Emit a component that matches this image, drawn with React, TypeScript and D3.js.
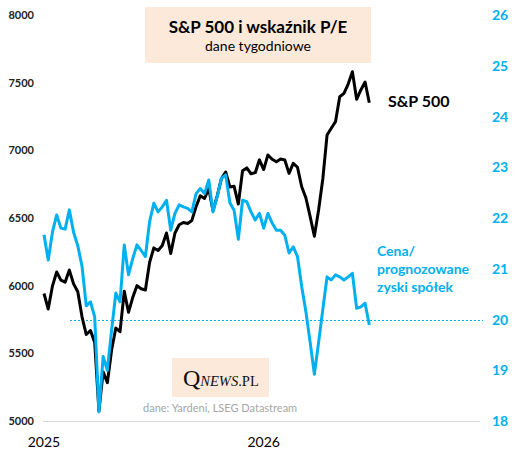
import React from "react";
import * as d3 from "d3";

// S&P 500 weekly closes (index 0 = first week of 2025)
const sp500: number[] = [
  5942, 5827, 5997, 6101, 6041, 6026, 6115, 6013, 5955, 5770,
  5639, 5668, 5581, 5074, 5363, 5283, 5525, 5687, 5660, 5958,
  5803, 5912, 6000, 5977, 5968, 6173, 6279, 6260, 6297, 6389,
  6238, 6389, 6450, 6467, 6460, 6482, 6584, 6664, 6644, 6716,
  6553, 6664, 6792, 6840, 6729, 6734, 6603, 6849, 6870, 6827,
  6835, 6930, 6858, 6966, 6934, 6916, 6936, 6929, 6830, 6904,
  6875, 6731, 6648, 6510, 6365, 6559, 6790, 7113, 7163, 7212,
  7396, 7421, 7490, 7581, 7377, 7446, 7505, 7352,
];

// Forward P/E (price / expected earnings)
const pe: number[] = [
  21.67, 21.17, 21.72, 22.06, 21.8, 21.78, 22.16, 21.72, 21.45, 21.05,
  20.27, 20.35, 20.05, 18.18, 19.27, 19.0, 19.79, 20.52, 20.35, 21.47,
  20.88, 21.2, 21.47, 21.36, 21.24, 21.93, 22.29, 22.12, 22.22, 22.35,
  21.76, 22.09, 22.26, 22.22, 22.19, 22.12, 22.48, 22.58, 22.48, 22.75,
  22.12, 22.42, 22.78, 22.85, 22.3, 22.15, 21.58, 22.35, 22.32, 22.12,
  21.96, 22.09, 21.8, 22.09, 21.9, 21.76, 21.76, 21.66, 21.31, 21.43,
  21.24, 20.65, 20.15, 19.55, 18.92, 19.55, 20.2, 20.84, 20.78, 20.88,
  20.84, 20.78, 20.84, 20.91, 20.22, 20.25, 20.32, 19.89,
];

const leftTicks: number[] = [5000, 5500, 6000, 6500, 7000, 7500, 8000];
const rightTicks: number[] = [18, 19, 20, 21, 22, 23, 24, 25, 26];
const xTickLabels: string[] = ["2025", "2026"];
const xTickIndex: number[] = [0, 52];
const peReference = 20;

const FONT = "Lato, 'Open Sans', sans-serif";
const BLUE = "#00b0f0";

export default function App() {
  const W = 517;
  const H = 460;
  const x = d3.scaleLinear().domain([0, sp500.length - 1]).range([44, 369.3]);
  const yL = d3.scaleLinear().domain([5000, 8000]).range([421, 15]);
  const yR = d3.scaleLinear().domain([18, 26]).range([421, 15]);

  const spLine = d3
    .line<number>()
    .x((_, i) => x(i))
    .y((d) => yL(d))(sp500) as string;
  const peLine = d3
    .line<number>()
    .x((_, i) => x(i))
    .y((d) => yR(d))(pe) as string;

  const refY = Math.round(yR(peReference)) + 0.5;

  return (
    <div style={{ position: "absolute", left: 0, top: 0 }}>
      <svg width={W} height={H} style={{ display: "block", background: "#fff" }} fontFamily={FONT}>
        {/* title box */}
        <rect x={145} y={7} width={226} height={56} fill="#fde9d9" />
        <text x={258} y={33} textAnchor="middle" fontSize={17} fontWeight="bold" fill="#000">
          S&amp;P 500 i wskaźnik P/E
        </text>
        <text x={258} y={51} textAnchor="middle" fontSize={14} fill="#000">
          dane tygodniowe
        </text>

        {/* left axis labels */}
        {leftTicks.map((t) => (
          <text key={"l" + t} x={34} y={yL(t) + 4} textAnchor="end" fontSize={11} fontWeight="bold" fill="#222">
            {t}
          </text>
        ))}
        {/* right axis labels */}
        {rightTicks.map((t) => (
          <text key={"r" + t} x={500} y={yR(t) + 5} textAnchor="middle" fontSize={14} fontWeight="bold" fill={BLUE}>
            {t}
          </text>
        ))}

        {/* x axis */}
        <line x1={43} x2={480} y1={421.5} y2={421.5} stroke="#d9d9d9" strokeWidth={1} />
        {xTickLabels.map((l, i) => (
          <text key={l} x={x(xTickIndex[i])} y={447} textAnchor="middle" fontSize={14} fill="#000">
            {l}
          </text>
        ))}

        {/* reference line at P/E 20 */}
        <line
          x1={70}
          x2={483}
          y1={refY}
          y2={refY}
          stroke={BLUE}
          strokeWidth={1}
          strokeDasharray="2,2"
        />

        {/* logo */}
        <rect x={172} y={358} width={97} height={39} fill="#fde9d9" />
        <text x={183} y={386} fill="#111" fontFamily="'Liberation Serif', 'DejaVu Serif', serif">
          <tspan fontSize={24}>Q</tspan>
          <tspan fontSize={14.5} fontStyle="italic">NEWS</tspan>
          <tspan fontSize={14.5}>.PL</tspan>
        </text>
        <text x={143} y={412} fontSize={11} fill="#a6a6a6">
          dane: Yardeni, LSEG Datastream
        </text>

        {/* series */}
        <path d={spLine} fill="none" stroke="#000" strokeWidth={3} strokeLinejoin="round" />
        <path d={peLine} fill="none" stroke={BLUE} strokeWidth={3} strokeLinejoin="round" />

        {/* series labels */}
        <text x={388} y={107} fontSize={16} fontWeight="bold" fill="#000">
          S&amp;P 500
        </text>
        <text fontSize={14} fontWeight="bold" fill={BLUE}>
          <tspan x={377} y={256}>Cena/</tspan>
          <tspan x={377} y={274}>prognozowane</tspan>
          <tspan x={377} y={292}>zyski spółek</tspan>
        </text>
      </svg>
    </div>
  );
}
